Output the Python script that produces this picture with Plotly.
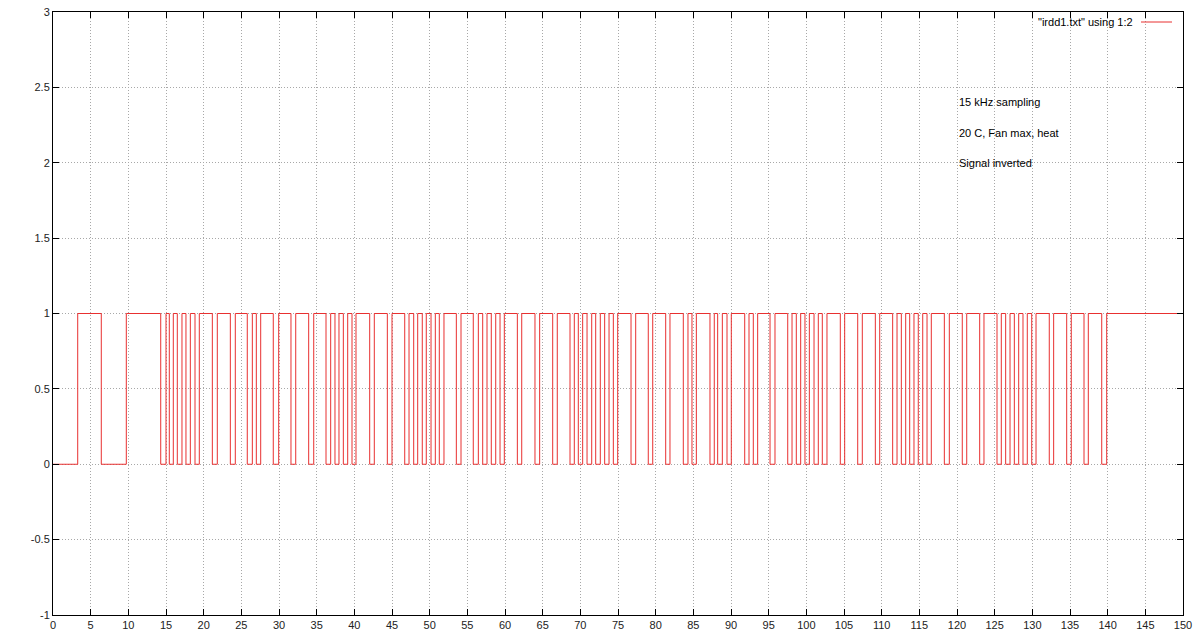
import plotly.graph_objects as go

# Transition times (x) and the level that starts at each time (step plot)
t = [0, 3.28, 6.41, 9.73,
     14.30, 15.00, 15.44, 15.97, 16.50, 17.12, 17.65, 18.23, 18.85, 19.42,
     21.15, 21.81, 23.54, 24.20, 25.79, 26.46, 26.99, 27.57, 29.24, 29.96,
     31.59, 32.22, 33.94, 34.61, 36.24, 36.86, 37.43, 37.96, 38.54, 39.12,
     39.69, 40.22, 42.04, 42.65, 44.38, 45.00, 46.69, 47.26, 47.88, 48.41,
     49.02, 49.55, 50.18, 50.75, 51.28, 51.90, 53.54, 54.16, 55.79, 56.46,
     57.04, 57.61, 58.18, 58.77, 59.34, 59.91, 61.64, 62.22, 63.98, 64.60,
     66.33, 66.94, 68.63, 69.20, 69.73, 70.31, 70.89, 71.51, 72.04, 72.65,
     73.23, 73.81, 74.38, 74.96, 76.73, 77.35, 79.02, 79.61, 81.33, 81.90,
     83.67, 84.29, 84.82, 85.40, 87.21, 87.78, 88.23, 88.85, 89.47, 90.04,
     91.82, 92.39, 92.96, 93.54, 95.18, 95.84, 97.53, 98.10, 98.67, 99.25,
     99.82, 100.40, 101.02, 101.59, 102.12, 102.74, 104.51, 105.09, 106.82, 107.43,
     109.16, 109.74, 111.46, 112.04, 112.61, 113.19, 113.72, 114.29, 114.86, 115.45,
     116.02, 116.59, 118.32, 118.98, 120.70, 121.29, 123.01, 123.58, 125.31, 125.88,
     126.46, 127.04, 127.61, 128.19, 128.76, 129.33, 129.92, 130.49, 132.25, 132.83,
     134.56, 135.17, 136.86, 137.43, 139.21, 139.87, 150]
v = [0, 1, 0, 1,
     0, 1, 0, 1, 0, 1, 0, 1, 0, 1,
     0, 1, 0, 1, 0, 1, 0, 1, 0, 1,
     0, 1, 0, 1, 0, 1, 0, 1, 0, 1,
     0, 1, 0, 1, 0, 1, 0, 1, 0, 1,
     0, 1, 0, 1, 0, 1, 0, 1, 0, 1,
     0, 1, 0, 1, 0, 1, 0, 1, 0, 1,
     0, 1, 0, 1, 0, 1, 0, 1, 0, 1,
     0, 1, 0, 1, 0, 1, 0, 1, 0, 1,
     0, 1, 0, 1, 0, 1, 0, 1, 0, 1,
     0, 1, 0, 1, 0, 1, 0, 1, 0, 1,
     0, 1, 0, 1, 0, 1, 0, 1, 0, 1,
     0, 1, 0, 1, 0, 1, 0, 1, 0, 1,
     0, 1, 0, 1, 0, 1, 0, 1, 0, 1,
     0, 1, 0, 1, 0, 1, 0, 1, 0, 1,
     0, 1, 0, 1, 0, 1, 1]

x_ticks = list(range(0, 151, 5))
y_ticks = [-1, -0.5, 0, 0.5, 1, 1.5, 2, 2.5, 3]
y_tick_labels = ["-1", "-0.5", "0", "0.5", "1", "1.5", "2", "2.5", "3"]

legend_label = '"irdd1.txt" using 1:2'
notes = ["15 kHz sampling", "20 C, Fan max, heat", "Signal inverted"]
note_x = [120, 120, 120]
note_y = [2.4, 2.2, 2.0]

LINE = "#e83030"
FONT = "Liberation Sans"

fig = go.Figure()
fig.add_trace(go.Scatter(x=t, y=v, mode="lines", line=dict(color=LINE, width=1, shape="hv"),
                         name=legend_label, showlegend=False, hoverinfo="skip"))

axis_common = dict(showgrid=True, gridcolor="#a8a8a8", griddash="1px,2px", gridwidth=1,
                   zeroline=False, showline=True, linecolor="#000000", linewidth=1,
                   mirror="ticks", ticks="inside", ticklen=6, tickcolor="#000000",
                   automargin=False,
                   tickfont=dict(family=FONT, size=11, color="#222222"))

fig.update_xaxes(range=[0, 150], tickmode="array", tickvals=x_ticks,
                 ticktext=[str(x) for x in x_ticks], **axis_common)
fig.update_yaxes(range=[-1, 3], tickmode="array", tickvals=y_ticks,
                 ticktext=y_tick_labels, **axis_common)

for txt, xx, yy in zip(notes, note_x, note_y):
    fig.add_annotation(x=xx, y=yy, xref="x", yref="y", text=txt, showarrow=False,
                       xanchor="left", yanchor="middle",
                       font=dict(family=FONT, size=11, color="#000000"))

# gnuplot-style key in the top right
KEY_Y = (615 - 22) / 603
fig.add_annotation(xref="x domain", yref="y domain", x=(1135 - 53) / 1130, y=KEY_Y,
                   text=legend_label, showarrow=False, xanchor="right", yanchor="middle",
                   font=dict(family=FONT, size=11, color="#000000"))
fig.add_shape(type="line", xref="x domain", yref="y domain",
              x0=(1141 - 53) / 1130, x1=(1172 - 53) / 1130, y0=KEY_Y, y1=KEY_Y,
              line=dict(color=LINE, width=1))

fig.update_layout(width=1200, height=640, margin=dict(l=53, r=17, t=12, b=25, autoexpand=False),
                  paper_bgcolor="white", plot_bgcolor="white", showlegend=False)

fig.write_html("out.html", config={"displayModeBar": False},
               post_script="document.body.style.margin='0';document.body.style.overflow='hidden';")
